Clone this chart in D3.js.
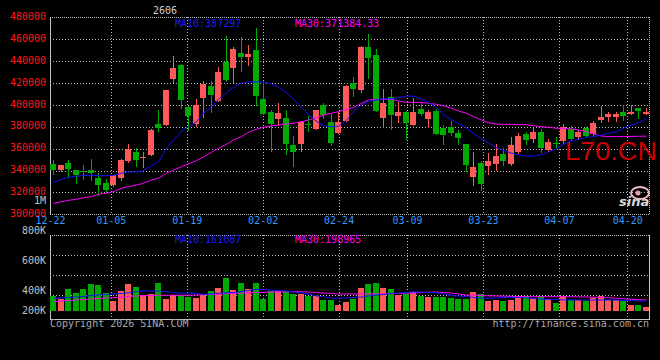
<!DOCTYPE html>
<html><head><meta charset="utf-8">
<script src="https://cdn.jsdelivr.net/npm/d3@7"></script>
<style>html,body{margin:0;padding:0;background:#000;overflow:hidden}svg{display:block}</style>
</head><body><svg id="c" width="660" height="360"></svg>
<script>
// ---------------- DATA ----------------
const dates = ["12-22","12-23","12-24","12-25","12-26","12-29","12-30","12-31","01-05","01-06",
"01-07","01-08","01-09","01-12","01-13","01-14","01-15","01-16","01-19","01-20",
"01-21","01-22","01-23","01-26","01-27","01-28","01-29","01-30","02-02","02-03",
"02-04","02-05","02-06","02-09","02-10","02-11","02-12","02-13","02-24","02-25",
"02-26","02-27","03-02","03-03","03-04","03-05","03-06","03-09","03-10","03-11",
"03-12","03-13","03-16","03-17","03-18","03-19","03-20","03-23","03-24","03-25",
"03-26","03-27","03-30","03-31","04-01","04-02","04-03","04-07","04-08","04-09",
"04-10","04-13","04-14","04-15","04-16","04-17","04-20","04-21","04-22","04-23"];
const dateLabelIdx = [0, 8, 18, 28, 38, 47, 57, 67, 76];

const open  = [346200,340100,347100,340400,339400,340700,333100,328800,326400,333100,
348300,356500,351600,354400,382100,381800,423800,436600,398300,382700,
406500,417200,403800,439400,434000,447700,443500,450100,405400,393500,
387400,387700,363300,364200,382500,378000,399900,384600,374600,385300,
419700,413600,453100,445600,387700,407200,389800,393200,381600,396200,
387100,394700,379100,380000,374600,364200,334400,346900,344400,346000,
355100,346000,357200,373400,368800,375500,358800,365200,367000,377700,
370900,378600,373100,386200,389200,388600,393800,391700,396900,391700];
const high  = [349200,345500,349800,340600,345200,350700,337600,332500,336000,350700,
364400,360500,357000,377500,395500,414000,444800,437500,398500,405500,
422100,421800,434900,462900,453100,461700,455000,470200,421200,395300,
401700,395300,371600,384800,389800,395500,402000,392300,393800,417800,
425500,453800,464700,451000,414500,414500,402300,394400,406000,402900,
395300,396200,381600,385300,377000,364500,357200,348700,355800,364000,
360300,370900,374000,375500,379100,378000,368500,370400,382200,380700,
377000,379500,385300,399200,393800,393200,399900,399900,397200,396900];
const low   = [336700,339500,334000,328500,332500,331000,317800,320000,325500,331000,
347700,343700,343000,353800,375700,381200,421300,397000,377000,381000,
389000,393800,403500,421800,420900,430900,436400,399900,391500,358100,
381600,354800,344400,358100,376400,377600,387700,363300,374000,384800,
408400,411500,424800,394000,380000,378000,384100,368800,381300,390700,
380000,373000,364200,372500,364200,339900,326800,322200,336800,340500,
345100,345100,356300,364200,366300,357200,357800,360300,364900,367900,
368800,371500,372500,384600,385300,385300,386200,391400,387700,391400];
const close = [340700,345200,341600,336100,339000,337300,326400,322400,335500,349800,
359900,349800,352400,377200,379300,413700,434100,404600,389800,400000,
419100,409000,430300,422700,451000,443500,446700,408100,391700,382500,
392600,364200,357200,384600,381800,395300,390700,365400,384600,417500,
414500,453100,443100,394400,402000,390700,393800,383700,393500,391700,
393500,373400,372500,374000,369500,345100,343500,327700,349000,353600,
349000,363300,371600,367900,375500,360900,366300,364800,380000,368800,
375500,371800,383700,389200,391700,391400,390100,393800,394700,393800];

const ma10 = [328900,332000,333800,334700,335600,335600,335300,335300,335600,337500,
338700,338700,339900,344400,348100,360300,367900,376100,380000,384600,
392500,398000,405000,411000,416000,420000,421000,421000,421000,419000,
416000,411000,405000,398000,391000,385000,381000,380000,380500,386000,
394000,400000,403500,404500,405500,405500,406500,408000,408000,405000,
402500,397500,391000,386500,383000,378600,374000,369000,365000,361000,
358500,355800,354200,353300,353300,354500,357000,360000,364000,367300,
368500,370200,371000,372500,374000,375500,378600,381600,383700,387300];
const ma30 = [310000,311500,312800,313700,315200,316100,318300,319200,320700,323800,
325200,326800,328300,331400,332900,337500,340500,343500,346000,349000,
352400,356700,360300,364000,367900,370900,374900,377700,379500,380700,
381600,382500,383200,384600,386200,388300,390700,392300,393800,396000,
397600,401400,404400,405100,405100,405000,403500,402300,402300,402300,
401400,400500,399200,396900,394400,392300,389200,386200,383700,382500,
382200,382200,382000,381800,381000,380000,379500,378600,378500,378000,
377000,375500,373500,371500,371000,371000,371000,371200,371300,371400];

const volume = [194000,164000,263000,223000,263000,312000,303000,223000,147000,243000,
312000,283000,204000,214000,322000,164000,204000,194000,184000,174000,
201000,243000,273000,372000,253000,322000,263000,322000,164000,243000,
243000,243000,214000,214000,194000,194000,154000,154000,105000,134000,
164000,273000,312000,322000,273000,263000,204000,214000,233000,194000,
184000,184000,184000,174000,164000,164000,233000,214000,144000,154000,
144000,154000,194000,194000,174000,194000,164000,125000,194000,154000,
154000,144000,174000,194000,154000,154000,144000,105000,105000,85000];
const volMa10 = [171000,174000,179000,184000,189000,199000,204000,209000,214000,219000,
226000,238000,243000,243000,243000,238000,228000,223000,223000,221000,
209000,214000,221000,226000,228000,238000,248000,258000,258000,253000,
248000,243000,233000,226000,214000,194000,184000,174000,171000,174000,
179000,184000,194000,204000,209000,219000,223000,228000,236000,233000,
228000,228000,214000,199000,194000,189000,179000,174000,171000,174000,
179000,181000,179000,174000,169000,164000,161000,159000,156000,154000,
154000,154000,154000,154000,154000,154000,151000,149000,146000,144000];
const volMa30 = [139000,144000,149000,154000,159000,164000,169000,174000,177000,182000,
189000,194000,196000,199000,201000,201000,201000,201000,201000,204000,
206000,210000,214000,217000,220000,223000,226000,228000,230000,233000,
234000,235000,236000,236000,233000,228000,223000,219000,214000,214000,
214000,214000,214000,214000,214000,216000,219000,221000,223000,228000,
231000,233000,228000,223000,214000,204000,201000,198000,195000,194000,
192000,190000,189000,188000,187000,187000,187000,187000,187000,186000,
185000,184000,182000,180000,177000,172000,166000,161000,158000,154000];

const priceTicks = [480000,460000,440000,420000,400000,380000,360000,340000,320000,300000];
const volTickLabels = ["800K","600K","400K","200K"];
const volGridValues = [800000,600000,400000,200000];
const legendMain = ["MA10:387297", "MA30:371384.33"];
const legendVol = ["MA10:161087", "MA30:198965"];

// ---------------- LAYOUT ----------------
const L = 50, R = 650;
const mainTop = 17.3, mainBot = 214.3;
const volTop = 234.7, volZeroY = 315.6, volBarBase = 310.7, volBot = 318.5;
const volLabelY = [234, 264, 294, 314];
const RED = "#ff5a5a", GREEN = "#00aa00", GRID = "#b8b8b8";
const MONO = "'DejaVu Sans Mono', monospace";

const svg = d3.select("#c");
svg.append("rect").attr("width",660).attr("height",360).attr("fill","#000");

const n = dates.length;
const xb = d3.scaleBand().domain(d3.range(n)).range([L, L + 7.5*(n-0.2)]).paddingInner(0.2).paddingOuter(0);
const xg = d3.scaleLinear().domain([0, n-1]).range([L, R]);   // date grid positions
const y  = d3.scaleLinear().domain([300000, 480000]).range([mainBot, mainTop]);
const yv = d3.scaleLinear().domain([0, 800000]).range([volZeroY, volTop]);
const bx = i => Math.round(xb(i));
const cx = i => bx(i) + 3.5;

// ---------- grids ----------
const g = svg.append("g").attr("shape-rendering","crispEdges");
g.selectAll(".hg").data(priceTicks.slice(1, -1)).join("line")
  .attr("x1",L).attr("x2",R).attr("y1",d=>Math.round(y(d))+0.5).attr("y2",d=>Math.round(y(d))+0.5)
  .attr("stroke",GRID).attr("stroke-dasharray","1,2");
g.selectAll(".vg").data(dateLabelIdx.slice(1)).join("line")
  .attr("x1",d=>Math.round(xg(d))+0.5).attr("x2",d=>Math.round(xg(d))+0.5)
  .attr("y1",mainTop).attr("y2",mainBot).attr("stroke",GRID).attr("stroke-dasharray","1,2");
[[L,Math.round(mainTop)+0.5,R,Math.round(mainTop)+0.5],[L,Math.round(mainBot)+0.5,R,Math.round(mainBot)+0.5],
 [R-0.5,mainTop,R-0.5,mainBot]].forEach(a=>{
  g.append("line").attr("x1",a[0]).attr("y1",a[1]).attr("x2",a[2]).attr("y2",a[3])
   .attr("stroke",GRID).attr("stroke-dasharray","1,1");
});
g.append("line").attr("x1",L+0.5).attr("x2",L+0.5).attr("y1",mainTop).attr("y2",mainBot+1).attr("stroke","#c8c8c8");

g.selectAll(".vhg").data(volGridValues).join("line")
  .attr("x1",L).attr("x2",R).attr("y1",d=>Math.round(yv(d))+0.5).attr("y2",d=>Math.round(yv(d))+0.5)
  .attr("stroke",GRID).attr("stroke-dasharray",(d,i)=> i===0 ? "1,1" : "1,2");
g.selectAll(".vvg").data(dateLabelIdx.slice(1)).join("line")
  .attr("x1",d=>Math.round(xg(d))+0.5).attr("x2",d=>Math.round(xg(d))+0.5)
  .attr("y1",volTop).attr("y2",volBot+3).attr("stroke",GRID).attr("stroke-dasharray","1,2");
g.append("line").attr("x1",L+0.5).attr("x2",L+0.5).attr("y1",volTop).attr("y2",volBot).attr("stroke","#c8c8c8");
g.append("line").attr("x1",R-0.5).attr("x2",R-0.5).attr("y1",volTop).attr("y2",volBot).attr("stroke","#c8c8c8");
g.append("line").attr("x1",L).attr("x2",R).attr("y1",volBot+0.5).attr("y2",volBot+0.5).attr("stroke","#c8c8c8");

// ---------- watermark & logo ----------
svg.append("text").attr("x",565).attr("y",160).attr("font-family","'Liberation Sans', Arial, sans-serif")
  .attr("font-size",26).attr("fill","#cc0000").attr("textLength",92).attr("lengthAdjust","spacingAndGlyphs").text("L70.CN");
const logo = svg.append("g");
logo.append("ellipse").attr("cx",640).attr("cy",193).attr("rx",9).attr("ry",6)
  .attr("fill","none").attr("stroke","#f0b8c0").attr("stroke-width",2);
logo.append("circle").attr("cx",638).attr("cy",193).attr("r",2.5).attr("fill","#e8a0a8");
logo.append("text").attr("x",619).attr("y",206).attr("font-family","'DejaVu Sans', sans-serif")
  .attr("font-size",13).attr("font-weight","bold").attr("font-style","italic").attr("fill","#d8d8d8").text("sina");

// ---------- candles ----------
const up = i => close[i] >= open[i];
const cg = svg.append("g").attr("shape-rendering","crispEdges");
const idx = d3.range(n);
cg.selectAll(".wick").data(idx).join("line")
  .attr("x1",cx).attr("x2",cx)
  .attr("y1",i=>Math.round(y(high[i]))).attr("y2",i=>Math.round(y(low[i]))+1)
  .attr("stroke",i=>up(i)?RED:GREEN);
cg.selectAll(".body").data(idx).join("rect")
  .attr("x",bx).attr("width",xb.bandwidth())
  .attr("y",i=>Math.round(y(Math.max(open[i],close[i]))))
  .attr("height",i=>Math.max(1, Math.round(y(Math.min(open[i],close[i]))) - Math.round(y(Math.max(open[i],close[i])))))
  .attr("fill",i=>up(i)?RED:GREEN);

// ---------- MA lines ----------
const lineMain = arr => d3.line().x((d,i)=>cx(i)).y(d=>y(d))(arr);
svg.append("path").attr("d",lineMain(ma30)).attr("fill","none").attr("stroke","#ff00ff").attr("stroke-width",1);
svg.append("path").attr("d",lineMain(ma10)).attr("fill","none").attr("stroke","#1010ff").attr("stroke-width",1);

// ---------- volume ----------
const vg = svg.append("g").attr("shape-rendering","crispEdges");
vg.selectAll(".vb").data(idx).join("rect")
  .attr("x",bx).attr("width",xb.bandwidth())
  .attr("y",i=>Math.round(yv(volume[i])))
  .attr("height",i=>Math.max(1, Math.round(volBarBase) - Math.round(yv(volume[i]))))
  .attr("fill",i=>up(i)?RED:GREEN);
const lineVol = arr => d3.line().x((d,i)=>cx(i)).y(d=>yv(d))(arr);
svg.append("path").attr("d",lineVol(volMa30)).attr("fill","none").attr("stroke","#ff00ff");
svg.append("path").attr("d",lineVol(volMa10)).attr("fill","none").attr("stroke","#1010ff");

// ---------- axes / labels ----------
const yAxis = d3.axisLeft(y).tickValues(priceTicks).tickSize(0).tickPadding(4).tickFormat(d3.format("d"));
const ya = svg.append("g").attr("transform",`translate(${L},-1)`).call(yAxis);
ya.select(".domain").remove();
ya.selectAll("text").attr("font-family",MONO).attr("font-size",10).attr("fill","#ff1a1a");

const xAxis = d3.axisBottom(xg).tickValues(dateLabelIdx).tickSize(0).tickPadding(3).tickFormat(i=>dates[i]);
const xa = svg.append("g").attr("transform",`translate(0,${mainBot})`).call(xAxis);
xa.select(".domain").remove();
xa.selectAll("text").attr("font-family",MONO).attr("font-size",10).attr("fill","#3399ff");

svg.selectAll(".vl").data(volTickLabels).join("text")
  .attr("x",L-4).attr("y",(d,i)=>volLabelY[i]).attr("text-anchor","end")
  .attr("font-family",MONO).attr("font-size",10).attr("fill","#c0c0c0").text(d=>d);
svg.append("text").attr("x",L-4).attr("y",204).attr("text-anchor","end")
  .attr("font-family",MONO).attr("font-size",10).attr("fill","#c0c0c0").text("1M");

const legendColors = ["#1a1aff","#ff00ff"], legendX = [175, 295];
legendMain.forEach((t,i)=> svg.append("text").attr("x",legendX[i]).attr("y",27.3)
  .attr("font-family",MONO).attr("font-size",10).attr("fill",legendColors[i]).text(t));
legendVol.forEach((t,i)=> svg.append("text").attr("x",legendX[i]).attr("y",242.7)
  .attr("font-family",MONO).attr("font-size",10).attr("fill",legendColors[i]).text(t));

svg.append("text").attr("x",153).attr("y",13.5).attr("font-family",MONO).attr("font-size",10)
  .attr("fill","#d0d0d0").text("2606");
svg.append("text").attr("x",L).attr("y",327).attr("font-family",MONO).attr("font-size",10)
  .attr("fill","#a8a8a8").text("Copyright 2026 SINA.COM");
svg.append("text").attr("x",R-1).attr("y",327).attr("text-anchor","end").attr("font-family",MONO).attr("font-size",10)
  .attr("fill","#a8a8a8").text("http://finance.sina.com.cn");
</script></body></html>
